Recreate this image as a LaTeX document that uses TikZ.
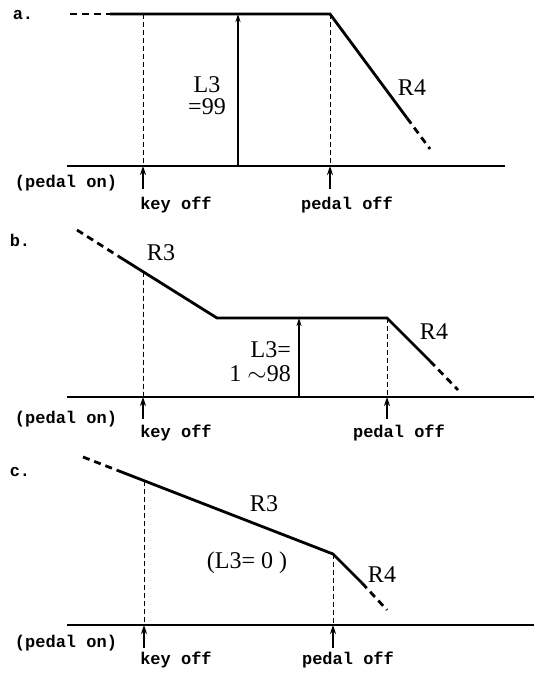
\documentclass[tikz,border=0pt]{standalone}
\usepackage{fontspec}
\setmainfont{Liberation Serif}
\setmonofont{Liberation Mono}
\usetikzlibrary{arrows.meta}

\begin{document}
\begin{tikzpicture}[
  x=1pt,y=-1pt,
  env/.style={line width=2.8pt,line join=miter},
  envdash/.style={env,dash pattern=on 7pt off 5pt},
  axis/.style={line width=1.2pt},
  guide/.style={line width=0.9pt,dash pattern=on 5pt off 3pt},
  level/.style={line width=1.6pt,-{Stealth[length=8pt,width=5pt]}},
  event/.style={line width=1.4pt,-{Stealth[length=9pt,width=6pt]}},
  txt/.style={font=\ttfamily\bfseries\fontsize{17}{17}\selectfont,inner sep=0pt},
  param/.style={font=\fontsize{24}{22}\selectfont,inner sep=0pt,align=center},
]
\useasboundingbox (0,0) rectangle (534,675);

% a. L3 = 99
\coordinate (a0) at (70,14);
\coordinate (a1) at (110,14);
\coordinate (ak) at (143,14);
\coordinate (al) at (238,14);
\coordinate (ap) at (330,14);
\coordinate (a2) at (407,118);
\coordinate (a3) at (430,149);
\coordinate (ab0) at (67,166);
\coordinate (ab1) at (505,166);
\coordinate (akb) at (143,166);
\coordinate (alb) at (238,166);
\coordinate (apb) at (330,166);
\coordinate (aka) at (143,189);
\coordinate (apa) at (330,189);
\draw[envdash] (a0) -- (a1);
\draw[env] (a1) -- (ap) -- (a2);
\draw[envdash] (a2) -- (a3);
\draw[axis] (ab0) -- (ab1);
\draw[guide] (ak) -- (akb);
\draw[guide] (ap) -- (apb);
\draw[level] (alb) -- (al);
\draw[event] (aka) -- (akb);
\draw[event] (apa) -- (apb);
\node[txt] (atag) at (23,15) {a.};
\node[param] (al3) at (207,96) {L3\\=99};
\node[param] (ar4) at (412,88) {R4};
\node[txt] (aon) at (66,183) {(pedal on)};
\node[txt] (akey) at (176,205) {key off};
\node[txt] (aped) at (347,205) {pedal off};

% b. L3 = 1~98
\coordinate (b0) at (77,230);
\coordinate (b1) at (118,256);
\coordinate (bk) at (143,271.5);
\coordinate (b2) at (217,318);
\coordinate (bl) at (299,318);
\coordinate (bp) at (387,318);
\coordinate (b3) at (430,361);
\coordinate (b4) at (458,390);
\coordinate (bb0) at (67,397);
\coordinate (bb1) at (534,397);
\coordinate (bkb) at (143,397);
\coordinate (blb) at (299,397);
\coordinate (bpb) at (387,397);
\coordinate (bka) at (143,419);
\coordinate (bpa) at (387,419);
\draw[envdash] (b0) -- (b1);
\draw[env] (b1) -- (b2) -- (bp) -- (b3);
\draw[envdash] (b3) -- (b4);
\draw[axis] (bb0) -- (bb1);
\draw[guide] (bk) -- (bkb);
\draw[guide] (bp) -- (bpb);
\draw[level] (blb) -- (bl);
\draw[event] (bka) -- (bkb);
\draw[event] (bpa) -- (bpb);
\node[txt] (btag) at (20,240) {b.};
\node[param] (br3) at (161,253) {R3};
\node[param] (br4) at (434,332) {R4};
\node[param,font=\fontsize{24}{24}\selectfont,anchor=east,align=right] (bl3) at (291,362) {L3=\\1 $\sim$98};
\node[txt] (bon) at (66,419) {(pedal on)};
\node[txt] (bkey) at (176,433) {key off};
\node[txt] (bped) at (399,433) {pedal off};

% c. L3 = 0
\coordinate (c0) at (83,457);
\coordinate (c1) at (117,470.2);
\coordinate (ck) at (144,480.7);
\coordinate (cp) at (333,554);
\coordinate (c2) at (362,583);
\coordinate (c3) at (387,610);
\coordinate (cb0) at (67,625);
\coordinate (cb1) at (534,625);
\coordinate (ckb) at (144,625);
\coordinate (cpb) at (333,625);
\coordinate (cka) at (144,648);
\coordinate (cpa) at (333,648);
\draw[envdash] (c0) -- (c1);
\draw[env] (c1) -- (cp) -- (c2);
\draw[envdash] (c2) -- (c3);
\draw[axis] (cb0) -- (cb1);
\draw[guide] (ck) -- (ckb);
\draw[guide] (cp) -- (cpb);
\draw[event] (cka) -- (ckb);
\draw[event] (cpa) -- (cpb);
\node[txt] (ctag) at (20,472) {c.};
\node[param] (cr3) at (264,504) {R3};
\node[param] (cl3) at (247,563) {(L3= 0 )};
\node[param] (cr4) at (382,575) {R4};
\node[txt] (con) at (66,643) {(pedal on)};
\node[txt] (ckey) at (176,660) {key off};
\node[txt] (cped) at (348,660) {pedal off};
\end{tikzpicture}
\end{document}
